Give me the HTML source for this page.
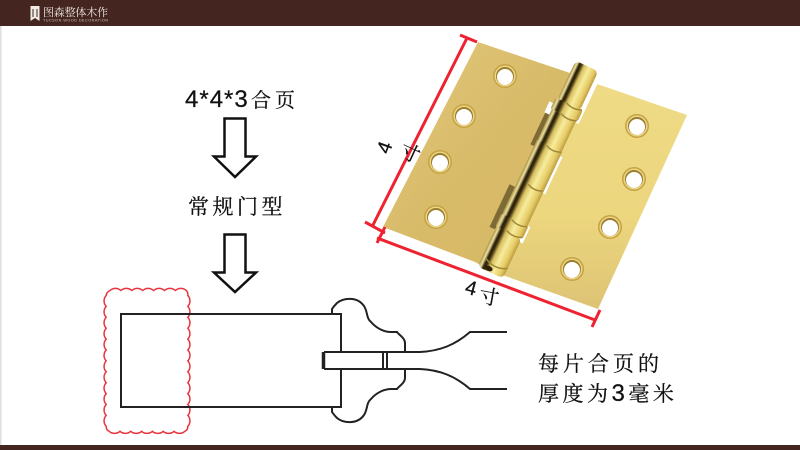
<!DOCTYPE html>
<html><head><meta charset="utf-8"><style>
html,body{margin:0;padding:0;background:#fff}
svg{display:block}
.c{font-family:"Liberation Sans","Noto Serif CJK SC",serif;fill:#111;stroke:#111;stroke-width:.25}
</style></head><body>
<svg width="800" height="450" viewBox="0 0 800 450" xmlns="http://www.w3.org/2000/svg">
<defs>
<linearGradient id="l" x1="0" y1="0" x2="1" y2="1"><stop offset="0" stop-color="#e2c87c"/><stop offset=".5" stop-color="#d8bb69"/><stop offset="1" stop-color="#d6b863"/></linearGradient>
<linearGradient id="r" x1="0" y1="0" x2="0" y2="1"><stop offset="0" stop-color="#efdb86"/><stop offset=".6" stop-color="#ecd67e"/><stop offset="1" stop-color="#ddc374"/></linearGradient>
<linearGradient id="b" x1="0" y1="0" x2="1" y2="0"><stop offset="0" stop-color="#a89048"/><stop offset=".1" stop-color="#efe2a0"/><stop offset=".2" stop-color="#2a2008"/><stop offset=".27" stop-color="#3a2c0c"/><stop offset=".4" stop-color="#d8c060"/><stop offset=".6" stop-color="#f7ec9c"/><stop offset=".85" stop-color="#e6cb66"/><stop offset="1" stop-color="#bc9c40"/></linearGradient>
<g id="h"><circle r="12" fill="#c6a345"/><circle r="10.500" fill="#ecd584"/><circle r="9" fill="#9a7e30"/><circle cy="1" r="8" fill="#fff"/></g>
</defs>
<rect width="800" height="450" fill="#fff"/>
<rect width="1.500" height="450" fill="#ddd"/>
<rect width="800" height="26" fill="#44251f"/>
<rect y="445" width="800" height="5" fill="#44251f"/>
<path d="M30.500 6h9v15l-4.500-3-4.500 3z" fill="#f1ebe6"/>
<path d="M33 9v8M37 9v8" stroke="#44251f" stroke-width="1"/>
<text x="43" y="16" font-family="'Noto Serif CJK SC',serif" font-size="11" fill="#efe8e2" textLength="65">图森整体木作</text>
<text x="43" y="21.500" font-family="'Liberation Sans',sans-serif" font-size="3.800" fill="#cfc4bd" textLength="65">TUCSON WOOD DECORATION</text>

<text class="c" x="185" y="107" font-size="24" letter-spacing="1">4*4*3</text>
<text class="c" x="251" y="107" font-size="20" letter-spacing="4">合页</text>
<path d="M224.500 118.500h21v38h10.500l-21 20.500-21-20.500h10.500z" fill="#fff" stroke="#111" stroke-width="2.500"/>
<text class="c" x="188" y="214" font-size="21" letter-spacing="3.500">常规门型</text>
<path d="M224.500 234.500h21v38h10.500l-21 19.500-21-19.500h10.500z" fill="#fff" stroke="#111" stroke-width="2.500"/>

<!-- hinge -->
<polygon points="478,42 570,73 584,78 490,270 475,262 383,227" fill="url(#l)"/>
<polygon points="600,85 687,115 598,309 508,277 488,270 585,80" fill="url(#r)"/>
<use href="#h" x="505" y="76"/><use href="#h" x="464" y="116"/><use href="#h" x="440" y="162"/><use href="#h" x="436" y="217"/>
<use href="#h" x="637" y="126"/><use href="#h" x="634" y="179"/><use href="#h" x="610" y="227"/><use href="#h" x="572" y="269"/>
<g transform="translate(587 66) rotate(25.100)">
<rect x="12" y="8" width="5" height="48" fill="#fff"/>
<rect x="12" y="93" width="4.500" height="41" fill="#fff"/>
<rect x="12" y="170" width="5" height="18" fill="#fff"/>
<rect x="-19" y="48" width="6" height="12" fill="#fff"/>
<rect x="-18" y="60" width="6" height="35" fill="#7d6b35"/>
<rect x="-20" y="140" width="6" height="47" fill="#7d6b35"/>
<rect x="-12.500" y="0" width="25" height="44" rx="5" fill="url(#b)"/>
<rect x="-15" y="42" width="30" height="12" rx="2" fill="url(#b)"/>
<rect x="-13.500" y="54" width="27" height="36" fill="url(#b)"/>
<rect x="-14" y="88" width="28" height="44" fill="url(#b)"/>
<rect x="-14" y="130" width="28" height="42" fill="url(#b)"/>
<rect x="-15" y="170" width="30" height="14" rx="2" fill="url(#b)"/>
<rect x="-14" y="184" width="28" height="44" rx="5" fill="url(#b)"/>
<g stroke="#a08838" stroke-width="1.500" fill="none">
<path d="M-3 42q8 4 17 0M-3 54q8 4 17 0M-3 89q8 4 16 0M-3 132q8 4 16 0M-3 171q8 4 17 0M-3 183q8 4 17 0M-10 217q12 7 24 0"/>
</g>
<ellipse cx="-3" cy="225" rx="4" ry="2.500" fill="#2a2008"/>
</g>

<!-- red dimensions -->
<g stroke="#ee2230" stroke-width="3" fill="none">
<path d="M467 38L373 225M460 35L477 42M365 222L385 233M385 227L377 243M377 238L595 320M600 310L592 327"/>
</g>
<text class="c" font-size="20" transform="translate(389 155) rotate(-70)" font-family="'Liberation Sans',sans-serif">4</text>
<text class="c" font-size="20" transform="translate(398 155) rotate(25)">寸</text>
<text class="c" font-size="20" transform="translate(464 293) rotate(15)">4</text>
<text class="c" font-size="20" transform="translate(478 302) rotate(10)">寸</text>

<!-- section drawing -->
<path d="M110 290.500a8 8 0 0 1 10.900 0a8 8 0 0 1 10.900 0a8 8 0 0 1 10.900 0a8 8 0 0 1 10.900 0a8 8 0 0 1 10.900 0a8 8 0 0 1 10.900 0a8 8 0 0 1 10.900 0q2 2 1.500 5a8 8 0 0 1 0 10.900a8 8 0 0 1 0 10.900a8 8 0 0 1 0 10.900a8 8 0 0 1 0 10.900a8 8 0 0 1 0 10.900a8 8 0 0 1 0 10.900a8 8 0 0 1 0 10.900a8 8 0 0 1 0 10.900a8 8 0 0 1 0 10.900a8 8 0 0 1 0 10.900a8 8 0 0 1 0 10.900a8 8 0 0 1 0 10.900q0 4-3 5a8 8 0 0 1-10.800 0a8 8 0 0 1-10.800 0a8 8 0 0 1-10.800 0a8 8 0 0 1-10.800 0a8 8 0 0 1-10.800 0a8 8 0 0 1-10.800 0a8 8 0 0 1-10.800 0q-3-1-3-5a8 8 0 0 1 0-10.900a8 8 0 0 1 0-10.900a8 8 0 0 1 0-10.900a8 8 0 0 1 0-10.900a8 8 0 0 1 0-10.900a8 8 0 0 1 0-10.900a8 8 0 0 1 0-10.900a8 8 0 0 1 0-10.900a8 8 0 0 1 0-10.900a8 8 0 0 1 0-10.900a8 8 0 0 1 0-10.900a8 8 0 0 1 0-10.900q0-3 3.800-5z" fill="none" stroke="#e8333e" stroke-width="1.500"/>
<g fill="none" stroke="#222" stroke-width="2">
<path d="M341 352V314H121V407H341V369"/>
<path d="M332 314V309Q334 306 337 303C343 298 357 296 364 306C368 312 366 318 371 322C377 329 385 332 391 332H397C399 335 405 338 405 343V352"/>
<path d="M332 407V412Q334 415 337 418C343 423 357 425 364 415C368 409 366 403 371 399C377 392 385 389 391 389H397C399 386 405 383 405 378V369"/>
<path d="M324 352H420C440 351 455 345 470 332H507"/>
<path d="M324 369H420C440 370 455 376 470 389H507"/>
<path d="M323.500 352V369" stroke-width="3.500"/>
<path d="M383 352V369M387 352V369"/>
</g>
<text class="c" x="538" y="371" font-size="21" letter-spacing="4">每片合页的</text>
<text class="c" x="538" y="401" font-size="21" letter-spacing="3.500">厚度为<tspan font-size="24">3</tspan>毫米</text>
</svg>
</body></html>
